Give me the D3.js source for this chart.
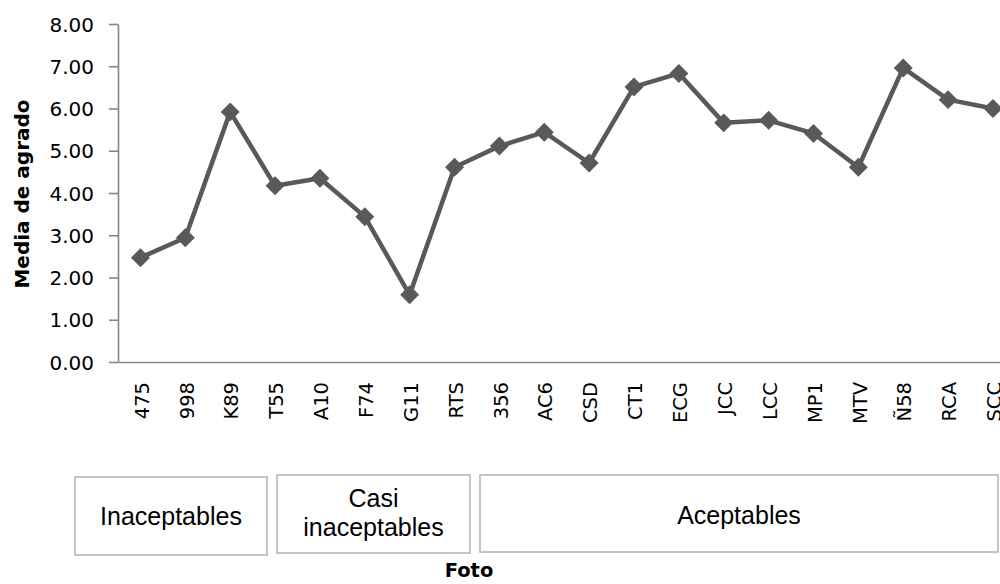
<!DOCTYPE html>
<html>
<head>
<meta charset="utf-8">
<script src="https://cdn.jsdelivr.net/npm/d3@7"></script>
<style>
  html, body { margin: 0; padding: 0; background: #ffffff; }
  svg { display: block; }
</style>
</head>
<body>
<svg id="chart" width="1000" height="584"></svg>
<script>
// ---- data ----
const categories = ["475","998","K89","T55","A10","F74","G11","RTS","356","AC6","CSD","CT1","ECG","JCC","LCC","MP1","MTV","Ñ58","RCA","SCC"];
const values = [2.47, 2.94, 5.92, 4.17, 4.35, 3.44, 1.59, 4.61, 5.11, 5.44, 4.71, 6.51, 6.83, 5.66, 5.72, 5.41, 4.61, 6.96, 6.21, 6.00];
const yTicks = [0, 1, 2, 3, 4, 5, 6, 7, 8];
const groupLabels = [["Inaceptables"], ["Casi", "inaceptables"], ["Aceptables"]];
const yTitle = "Media de agrado";
const xTitle = "Foto";

// ---- layout ----
const svg = d3.select("#chart");
const plotLeft = 118, plotTop = 24, plotBottom = 362;
const bandW = 44.87;
const x = d3.scaleBand().domain(categories).range([plotLeft, plotLeft + bandW * categories.length]).padding(0);
const y = d3.scaleLinear().domain([0, 8]).range([plotBottom, plotTop]);
const axisColor = "#868686";
const lineColor = "#595959";

// y axis
const gy = svg.append("g").attr("transform", `translate(${plotLeft},0)`)
  .call(d3.axisLeft(y).tickValues(yTicks).tickFormat(d3.format(".2f")).tickSize(9).tickSizeOuter(0).tickPadding(15));
gy.select(".domain").attr("stroke", axisColor).attr("stroke-width", 1.6);
gy.selectAll(".tick line").attr("stroke", axisColor).attr("stroke-width", 1.6);
gy.selectAll(".tick text").attr("fill", "#000").style("font-family", "'DejaVu Sans'").style("font-size", "20px").attr("dy", "0.36em");

// x axis
const gx = svg.append("g").attr("transform", `translate(0,${plotBottom})`)
  .call(d3.axisBottom(x).tickSize(0).tickSizeOuter(0));
gx.select(".domain").attr("stroke", axisColor).attr("stroke-width", 1.6);
gx.selectAll(".tick text")
  .attr("fill", "#000")
  .style("font-family", "'DejaVu Sans'").style("font-size", "19.5px")
  .attr("text-anchor", "end")
  .attr("transform", "rotate(-90)")
  .attr("x", -20).attr("y", 0).attr("dy", "0.42em");

// line
const line = d3.line().x((d, i) => x(categories[i]) + x.bandwidth() / 2).y(d => y(d));
svg.append("path").datum(values)
  .attr("d", line).attr("fill", "none").attr("stroke", lineColor)
  .attr("stroke-width", 4.5).attr("stroke-linejoin", "round");

// markers
const diamond = d3.symbol().type(d3.symbolSquare).size(180);
svg.append("g").selectAll("path").data(values).join("path")
  .attr("d", diamond)
  .attr("fill", lineColor)
  .attr("transform", (d, i) => `translate(${x(categories[i]) + x.bandwidth() / 2},${y(d)}) rotate(45)`);

// y title
svg.append("text")
  .attr("transform", "translate(29,194) rotate(-90)")
  .attr("text-anchor", "middle")
  .style("font-family", "'DejaVu Sans'").style("font-weight", "bold").style("font-size", "20px")
  .attr("fill", "#000")
  .text(yTitle);

// group boxes
const boxes = [
  { x0: 75, x1: 267, y0: 477, y1: 555, baselines: [525] },
  { x0: 277, x1: 470, y0: 475, y1: 553, baselines: [507, 536] },
  { x0: 480, x1: 998, y0: 475, y1: 552, baselines: [524] }
];
const gb = svg.append("g");
boxes.forEach((b, i) => {
  gb.append("rect").attr("x", b.x0).attr("y", b.y0).attr("width", b.x1 - b.x0).attr("height", b.y1 - b.y0)
    .attr("fill", "#fff").attr("stroke", "#bfbfbf").attr("stroke-width", 1.8);
  groupLabels[i].forEach((t, j) => {
    gb.append("text").attr("x", (b.x0 + b.x1) / 2).attr("y", b.baselines[j])
      .attr("text-anchor", "middle")
      .style("font-family", "'Liberation Sans'").style("font-size", "25px")
      .attr("fill", "#000").text(t);
  });
});

// x title
svg.append("text").attr("x", 469).attr("y", 577).attr("text-anchor", "middle")
  .style("font-family", "'DejaVu Sans'").style("font-weight", "bold").style("font-size", "19.5px")
  .attr("fill", "#000").text(xTitle);
</script>
</body>
</html>
